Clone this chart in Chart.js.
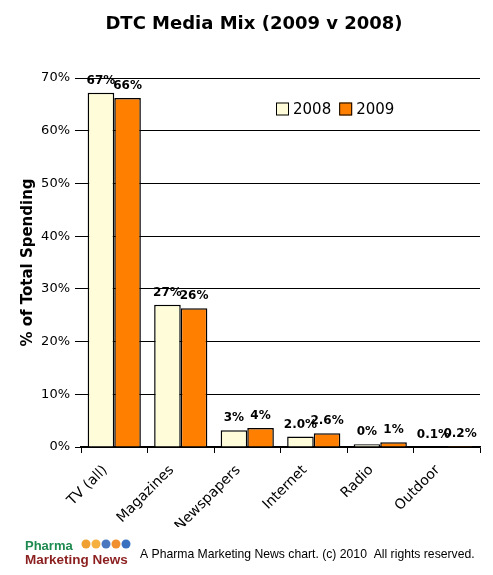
<!DOCTYPE html>
<html>
<head>
<meta charset="utf-8">
<script src="https://cdn.jsdelivr.net/npm/chart.js@4.4.1/dist/chart.umd.min.js"></script>
<style>
html,body{margin:0;padding:0;background:#fff;}
#wrap{position:relative;width:493px;height:575px;}
canvas{display:block;}
</style>
</head>
<body>
<div id="wrap"><canvas id="c" width="493" height="575"></canvas></div>
<script>
const categories = ["TV (all)", "Magazines", "Newspapers", "Internet", "Radio", "Outdoor"];
const values2008 = [67.2, 27.0, 3.2, 2.0, 0.5, 0.1];
const values2009 = [66.2, 26.3, 3.6, 2.6, 0.9, 0.2];
const labels2008 = ["67%", "27%", "3%", "2.0%", "0%", "0.1%"];
const labels2009 = ["66%", "26%", "4%", "2.6%", "1%", "0.2%"];
const seriesNames = ["2008", "2009"];
const yTicks = [0, 10, 20, 30, 40, 50, 60, 70];
const chartTitle = "DTC Media Mix (2009 v 2008)";
const yTitle = "% of Total Spending";
const footerText = "A Pharma Marketing News chart. (c) 2010  All rights reserved.";

const colors = ["#FFFCD9", "#FF7F00"];
const valueLabels = [labels2008, labels2009];

const drawPlugin = {
  id: 'extras',
  afterDatasetsDraw(chart) {
    const ctx = chart.ctx;
    ctx.save();
    ctx.font = "bold 12px 'DejaVu Sans'";
    ctx.fillStyle = "#000";
    ctx.textAlign = "center";
    ctx.textBaseline = "bottom";
    chart.data.datasets.forEach((ds, i) => {
      const meta = chart.getDatasetMeta(i);
      meta.data.forEach((bar, j) => {
        ctx.fillText(valueLabels[i][j], bar.x, bar.y - 6);
      });
    });
    // legend
    const area = chart.chartArea;
    ctx.font = "15px 'DejaVu Sans'";
    ctx.textAlign = "left";
    ctx.textBaseline = "middle";
    let lx = area.left + 195;
    const ly = area.top + 31;
    chart.data.datasets.forEach((ds, i) => {
      ctx.fillStyle = ds.backgroundColor;
      ctx.fillRect(lx, ly - 6.5, 13, 13);
      ctx.strokeStyle = "#000";
      ctx.lineWidth = 1;
      ctx.strokeRect(lx + 0.5, ly - 6, 12, 12);
      ctx.fillStyle = "#000";
      ctx.fillText(ds.label, lx + 17, ly + 1);
      lx += 17 + ctx.measureText(ds.label).width + 8;
    });
    ctx.restore();
  },
  afterDraw(chart) {
    const ctx = chart.ctx;
    ctx.save();
    // title
    ctx.font = "bold 18px 'DejaVu Sans'";
    ctx.fillStyle = "#000";
    ctx.textAlign = "center";
    ctx.textBaseline = "middle";
    ctx.fillText(chartTitle, 254, 24);
    // logo
    ctx.textAlign = "left";
    ctx.textBaseline = "alphabetic";
    ctx.font = "bold 13px 'Liberation Sans'";
    ctx.fillStyle = "#1E8A50";
    ctx.fillText("Pharma", 25, 550);
    ctx.font = "bold 13.5px 'Liberation Sans'";
    ctx.fillStyle = "#8B1E1E";
    ctx.fillText("Marketing News", 25, 564);
    const balls = [[86, "#F0A030"], [96, "#F5B040"], [106, "#4A78C0"], [116, "#F09030"], [126, "#3A70C0"]];
    balls.forEach(b => {
      ctx.beginPath();
      ctx.fillStyle = b[1];
      ctx.arc(b[0], 544, 4.5, 0, Math.PI * 2);
      ctx.fill();
    });
    // footer
    ctx.font = "12.2px 'Liberation Sans'";
    ctx.fillStyle = "#000";
    ctx.fillText(footerText, 140, 558);
    ctx.restore();
  }
};

new Chart(document.getElementById('c'), {
  type: 'bar',
  data: {
    labels: categories,
    datasets: [
      { label: seriesNames[0], data: values2008, backgroundColor: colors[0], borderColor: "#000", borderWidth: 1.5, categoryPercentage: 0.8, barPercentage: 1.0 },
      { label: seriesNames[1], data: values2009, backgroundColor: colors[1], borderColor: "#000", borderWidth: 1.5, categoryPercentage: 0.8, barPercentage: 1.0 }
    ]
  },
  options: {
    responsive: false,
    animation: false,
    devicePixelRatio: 1,
    layout: { padding: { top: 78, left: 0, right: 13, bottom: 48 } },
    plugins: { legend: { display: false }, title: { display: false }, tooltip: { enabled: false } },
    scales: {
      x: {
        afterFit(scale) { scale.height = 80; },
        grid: { display: true, drawOnChartArea: false, drawTicks: true, tickLength: 6, color: "#000", offset: true },
        border: { display: true, color: "#000", width: 1.5 },
        ticks: { color: "#000", font: { family: "'DejaVu Sans'", size: 14 }, maxRotation: 45, minRotation: 45, autoSkip: false, padding: 9, labelOffset: -9 }
      },
      y: {
        min: 0, max: 70,
        afterFit(scale) { scale.width = 81; },
        afterBuildTicks(scale) { scale.ticks = yTicks.map(v => ({ value: v })); },
        grid: { color: "#000", lineWidth: 1, drawTicks: true, tickLength: 6 },
        border: { display: false },
        ticks: { color: "#000", font: { family: "'DejaVu Sans'", size: 13 }, padding: 5, callback: v => v + "%" },
        title: { display: true, text: yTitle, color: "#000", font: { family: "'DejaVu Sans'", size: 15, weight: "bold" }, padding: { top: 19, bottom: 0 } }
      }
    }
  },
  plugins: [drawPlugin]
});
</script>
</body>
</html>
